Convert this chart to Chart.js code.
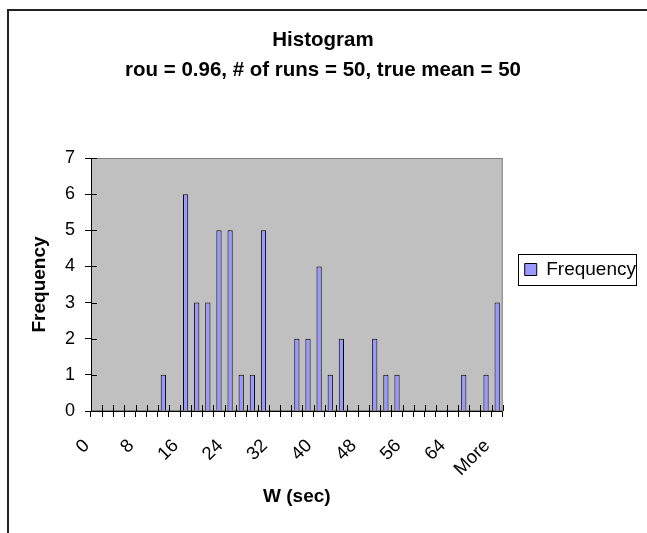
<!DOCTYPE html>
<html>
<head>
<meta charset="utf-8">
<script src="https://cdn.jsdelivr.net/npm/chart.js@4.4.1/dist/chart.umd.min.js"></script>
<style>
  html, body { margin: 0; padding: 0; background: #ffffff; }
  #wrap { position: relative; width: 647px; height: 533px; }
</style>
</head>
<body>
<div id="wrap"><canvas id="c"></canvas></div>
<script>
// ---- data ----
const categories = ['0','2','4','6','8','10','12','14','16','18','20','22','24','26','28','30','32','34','36','38','40','42','44','46','48','50','52','54','56','58','60','62','64','66','68','70','More'];
const frequency  = [0,0,0,0,0,0,1,0,6,3,3,5,5,1,1,5,0,0,2,2,4,1,2,0,0,2,1,1,0,0,0,0,0,1,0,1,3];
const yTicks = [0,1,2,3,4,5,6,7];
const labelEvery = 4;
const titleLines = ['Histogram', 'rou = 0.96, # of runs = 50, true mean = 50'];
const xTitle = 'W (sec)';
const yTitle = 'Frequency';
const seriesName = 'Frequency';

const FONT = "'Liberation Sans', Arial, Helvetica, sans-serif";

const decor = {
  id: 'decor',
  beforeDraw(chart) {
    const ctx = chart.ctx, a = chart.chartArea;
    ctx.save();
    ctx.fillStyle = '#ffffff';
    ctx.fillRect(0, 0, chart.width, chart.height);
    // outer frame
    ctx.strokeStyle = '#222222';
    ctx.lineWidth = 2;
    ctx.strokeRect(8, 10, chart.width + 20, chart.height + 20);
    // plot area
    ctx.fillStyle = '#C0C0C0';
    ctx.fillRect(a.left, a.top, a.right - a.left, a.bottom - a.top);
    ctx.strokeStyle = '#808080';
    ctx.lineWidth = 1;
    ctx.strokeRect(a.left + 0.5, a.top + 0.5, a.right - a.left - 1, a.bottom - a.top - 1);
    ctx.restore();
  },
  afterDraw(chart) {
    const ctx = chart.ctx;
    const x = chart.scales.x, y = chart.scales.y;
    ctx.save();
    ctx.strokeStyle = '#000000';
    ctx.lineWidth = 1;
    ctx.beginPath();
    // inner half of cross tick marks on x axis (category boundaries)
    for (let i = 0; i <= categories.length; i++) {
      const px = Math.round(x.getPixelForValue(i - 0.5)) + 0.5;
      ctx.moveTo(px, y.bottom);
      ctx.lineTo(px, y.bottom - 6);
    }
    // inner half of cross tick marks on y axis
    yTicks.forEach(v => {
      const py = Math.round(y.getPixelForValue(v)) + 0.5;
      ctx.moveTo(x.left, py);
      ctx.lineTo(x.left + 6, py);
    });
    ctx.stroke();
    // legend frame
    const lg = chart.legend;
    if (lg && lg.legendHitBoxes && lg.legendHitBoxes.length) {
      const hb = lg.legendHitBoxes[0];
      const cy = hb.top + hb.height / 2;
      ctx.strokeStyle = '#000000';
      ctx.lineWidth = 1;
      ctx.strokeRect(Math.round(hb.left - 7) + 0.5, Math.round(cy - 15.5) + 0.5, Math.round(hb.width + 7), 31);
    }
    ctx.restore();
  }
};

new Chart(document.getElementById('c'), {
  type: 'bar',
  data: {
    labels: categories,
    datasets: [{
      label: seriesName,
      data: frequency,
      backgroundColor: '#9999FF',
      borderColor: '#000000',
      borderWidth: 1,
      barPercentage: 0.47,
      categoryPercentage: 1.0
    }]
  },
  options: {
    responsive: true,
    maintainAspectRatio: false,
    animation: false,
    devicePixelRatio: 1,
    layout: { padding: { top: 6, right: 1, bottom: 0, left: 0 } },
    plugins: {
      title: {
        display: true,
        text: titleLines,
        color: '#000000',
        font: { family: FONT, size: 20.5, weight: 'bold', lineHeight: 1.5 },
        padding: { top: 18.5, bottom: 72 }
      },
      legend: {
        display: true,
        position: 'right',
        align: 'center',
        labels: {
          color: '#000000',
          font: { family: FONT, size: 19 },
          boxWidth: 12,
          boxHeight: 12,
          padding: 22
        }
      },
      tooltip: { enabled: false }
    },
    scales: {
      x: {
        type: 'category',
        offset: true,
        grid: {
          display: true,
          offset: true,
          drawOnChartArea: false,
          drawTicks: true,
          tickLength: 6,
          color: '#000000',
          lineWidth: 1
        },
        border: { display: true, color: '#000000', width: 1 },
        ticks: {
          autoSkip: false,
          maxRotation: 45,
          minRotation: 45,
          color: '#000000',
          font: { family: FONT, size: 18.5 },
          padding: 18,
          labelOffset: -10,
          callback: function(value, index) {
            return index % labelEvery === 0 ? categories[index] : '';
          }
        },
        title: {
          display: true,
          text: xTitle,
          color: '#000000',
          font: { family: FONT, size: 19, weight: 'bold' },
          padding: { top: 0, bottom: 24.6 }
        },
        afterFit: function(scale) { scale.height = 122; }
      },
      y: {
        min: 0,
        max: 7,
        grid: {
          display: true,
          drawOnChartArea: false,
          drawTicks: true,
          tickLength: 6,
          color: '#000000',
          lineWidth: 1
        },
        border: { display: true, color: '#000000', width: 1 },
        afterBuildTicks: function(scale) { scale.ticks = yTicks.map(v => ({ value: v })); },
        ticks: {
          color: '#000000',
          font: { family: FONT, size: 18 },
          padding: 10
        },
        title: {
          display: true,
          text: yTitle,
          color: '#000000',
          font: { family: FONT, size: 19, weight: 'bold' },
          padding: { top: 28.6, bottom: 0 }
        },
        afterFit: function(scale) { scale.width = 91; }
      }
    }
  },
  plugins: [decor]
});
</script>
</body>
</html>
